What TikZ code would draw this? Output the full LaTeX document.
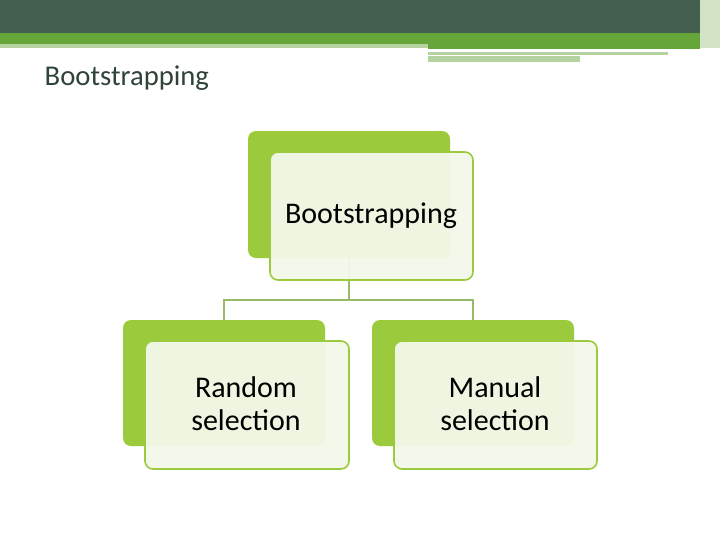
\documentclass[tikz,border=0pt]{standalone}
\usepackage{fontspec}
\setmainfont{Carlito}
\usetikzlibrary{positioning}
\definecolor{darkbar}{HTML}{445F50}
\definecolor{midgreen}{HTML}{66A53A}
\definecolor{palegreen}{HTML}{B5D3A0}
\definecolor{leafgreen}{HTML}{9BCB3C}
\definecolor{boxfill}{HTML}{F3F8EA}
\definecolor{linkgreen}{HTML}{98BB6A}
\tikzset{
  backbox/.style={fill=leafgreen, rounded corners=6pt},
  frontbox/.style={draw=leafgreen, line width=1.2pt, fill=boxfill, fill opacity=0.95,
    text opacity=1, rounded corners=6pt},
  label/.style={font=\fontsize{22.5}{25}\selectfont, align=center, text=black},
  link/.style={draw=linkgreen, line width=1.2pt},
}
\begin{document}
\begin{tikzpicture}[x=0.75pt, y=-0.75pt]
    \useasboundingbox (0,0) rectangle (720,540);
    
    % header bar
    \fill[darkbar] (0,0) rectangle (720,33);
    \fill[midgreen] (0,33) rectangle (720,44);
    \fill[midgreen] (428,44) rectangle (700,49);
    \fill[palegreen] (0,44) rectangle (428,48);
    \fill[palegreen] (428,52) rectangle (668,55);
    \fill[palegreen] (428,56) rectangle (580,62);
    \fill[palegreen!60] (700,0) rectangle (720,48);
    
    % title
    \node[anchor=west, font=\fontsize{21.5}{25}\selectfont, text=darkbar!70!black] (title) at (40,78) {Bootstrapping};
    
    % boxes
    \fill[backbox] (248,131) rectangle (450,258);
    \fill[backbox] (123,320) rectangle (325,446);
    \fill[backbox] (372,320) rectangle (574,446);
    
    % connectors
    \coordinate (split) at (349,300);
    \draw[link] (349,258) -- (split);
    \draw[link] (224,320) |- (split) -| (473,320);
    
    \filldraw[frontbox] (270,152) rectangle (473,280);
    \filldraw[frontbox] (145,341) rectangle (349,469);
    \filldraw[frontbox] (394,341) rectangle (597,469);
    
    \node[label] (root) at (371,216) {Bootstrapping};
    \node[label] (random) at (246,404) {Random\\selection};
    \node[label] (manual) at (495,404) {Manual\\selection};
    
\end{tikzpicture}
\end{document}
